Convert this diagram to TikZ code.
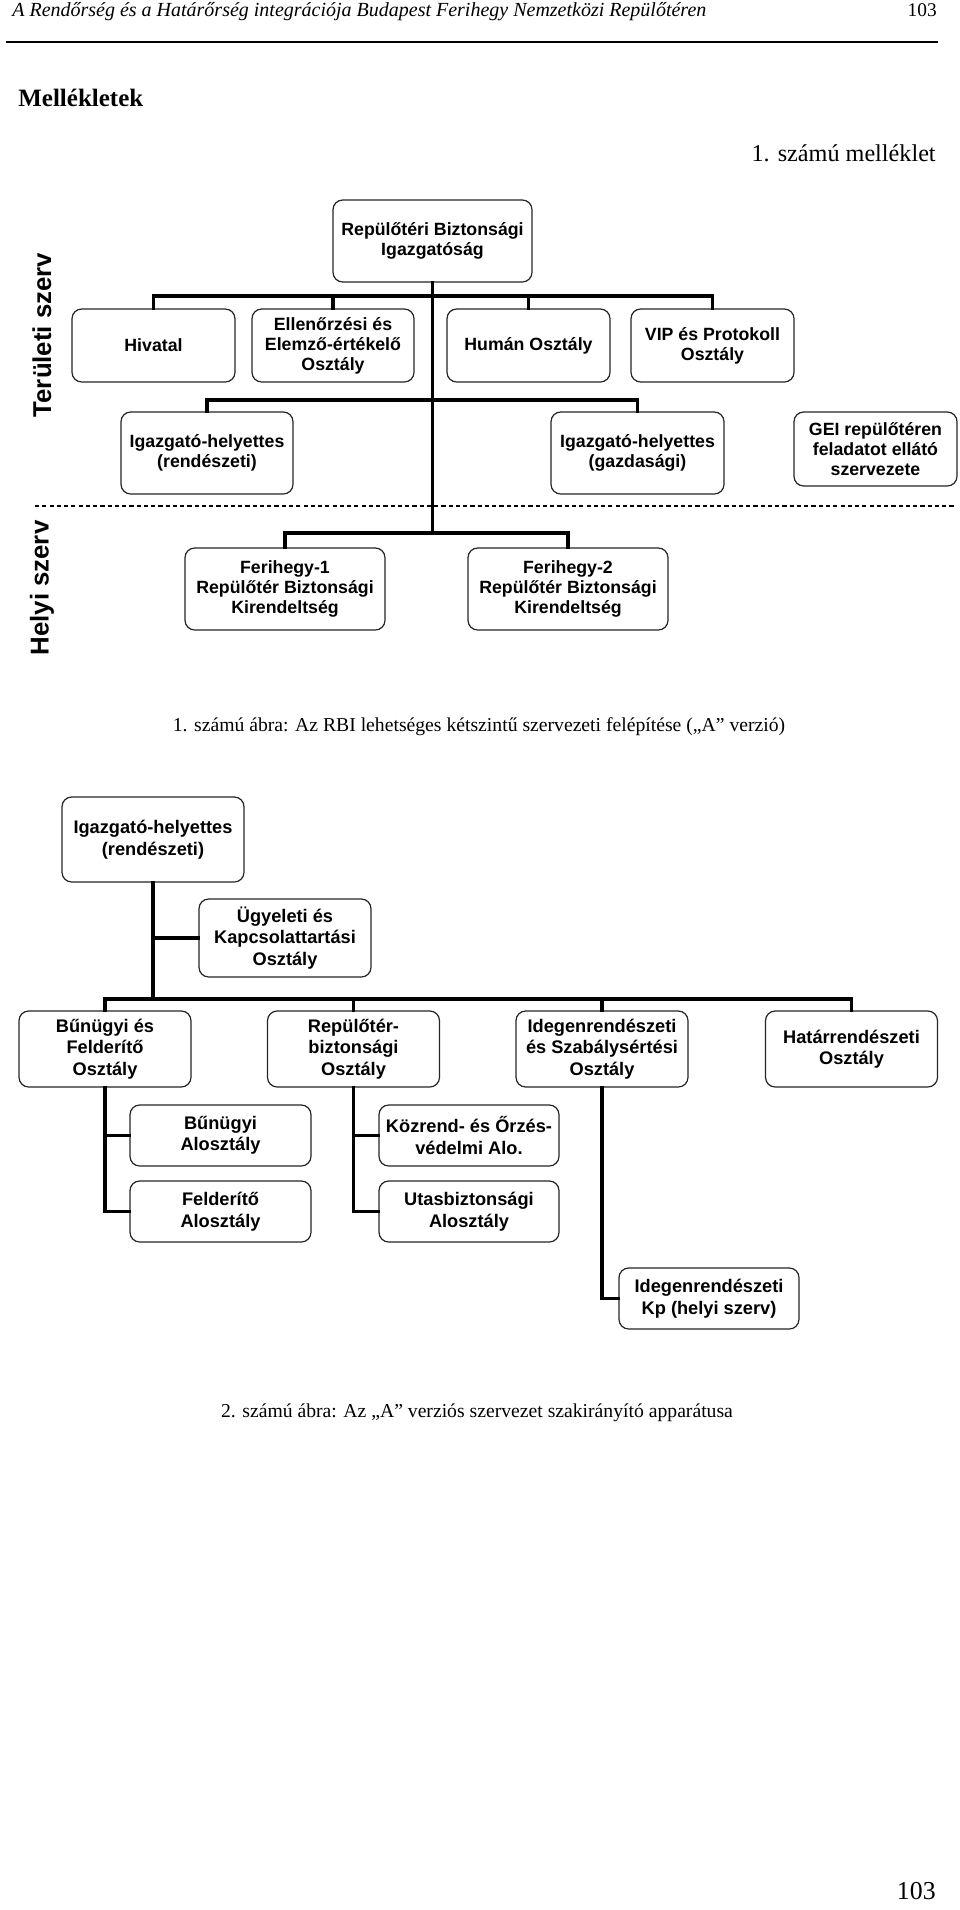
\documentclass[tikz,border=0pt]{standalone}
\usepackage{fontspec}
\setmainfont{Liberation Serif}
\newfontfamily\boxfont{Liberation Sans}
\begin{document}
\begin{tikzpicture}[x=0.6201pt,y=-0.6201pt,
  bx/.style 2 args={minimum width=#1*0.6201pt, minimum height=#2*0.6201pt},
  box/.style={draw=black!85, line width=0.75pt, rounded corners=6pt, align=center, inner sep=0pt,
    font=\boxfont\bfseries\fontsize{11}{12.4}\selectfont},
  boxb/.style={box, font=\boxfont\bfseries\fontsize{11.3}{13.3}\selectfont},
  conn/.style={line width=2.3pt, line cap=rect, line join=miter},
  connthin/.style={line width=2pt, line cap=rect, line join=miter},
  side/.style={rotate=90, font=\boxfont\bfseries\fontsize{16}{18}\selectfont},
]
\useasboundingbox[fill=white] (0,0) rectangle (960,1910);

% header
\node[anchor=base west, inner sep=0pt, font=\itshape\fontsize{12.4}{14}\selectfont] (hdr) at (12,17)
  {A Rendőrség és a Határőrség integrációja Budapest Ferihegy Nemzetközi Repülőtéren};
\node[anchor=base east, inner sep=0pt, font=\fontsize{12}{14}\selectfont] (hdrnum) at (937,17) {103};
\coordinate (rulel) at (6,42);
\coordinate (ruler) at (938,42);
\draw[line width=0.9pt] (rulel) -- (ruler);

\node[anchor=base west, inner sep=0pt, font=\bfseries\fontsize{15.5}{17}\selectfont] (mell) at (18,106) {Mellékletek};
\node[anchor=base east, inner sep=0pt, font=\fontsize{15}{17}\selectfont] (mell1) at (936,161) {1. számú melléklet};

% ---------- diagram 1 ----------
\node[side] (terul) at (42,335) {Területi szerv};
\node[side] (helyi) at (42,588) {Helyi szerv};

\node[box, bx={199}{82}] (rbi) at (432.5,241) {Repülőtéri Biztonsági\\Igazgatóság};
\node[box, bx={163}{73}] (hiv) at (153.5,345.5) {Hivatal};
\node[box, bx={162}{73}] (ell) at (333,345.5) {Ellenőrzési és\\Elemző-értékelő\\Osztály};
\node[box, bx={163}{73}] (hum) at (528.5,345.5) {Humán Osztály};
\node[box, bx={163}{73}] (vip) at (712.5,345.5) {VIP és Protokoll\\Osztály};
\node[box, bx={172}{82}] (igr) at (207,453) {Igazgató-helyettes\\(rendészeti)};
\node[box, bx={173}{82}] (igg) at (637.5,453) {Igazgató-helyettes\\(gazdasági)};
\node[box, bx={163}{74}] (gei) at (875.5,449) {GEI repülőtéren\\feladatot ellátó\\szervezete};
\node[box, bx={200}{82}] (f1) at (285,589) {Ferihegy-1\\Repülőtér Biztonsági\\Kirendeltség};
\node[box, bx={200}{82}] (f2) at (568,589) {Ferihegy-2\\Repülőtér Biztonsági\\Kirendeltség};

\coordinate (bus1) at (432.5,296);
\coordinate (bus2) at (432.5,400);
\coordinate (bus3) at (432.5,533);
\coordinate (dashl) at (35,506);
\coordinate (dashr) at (955,506);

\draw[line width=0.7pt, dash pattern=on 2.6pt off 1.9pt] (dashl) -- (dashr);
\draw[conn] (rbi.south) -- (bus3);
\draw[connthin] (hiv.north) -- (hiv.north |- bus1) -- (vip.north |- bus1) -- (vip.north);
\draw[connthin] (ell.north) -- (ell.north |- bus1);
\draw[connthin] (hum.north) -- (hum.north |- bus1);
\draw[conn] (igr.north) -- (igr.north |- bus2) -- (igg.north |- bus2) -- (igg.north);
\draw[conn] (f1.north) -- (f1.north |- bus3) -- (f2.north |- bus3) -- (f2.north);

\node[anchor=base, inner sep=0pt, font=\fontsize{12.2}{14}\selectfont] (cap1) at (479,731)
  {1. számú ábra: Az RBI lehetséges kétszintű szervezeti felépítése („A” verzió)};

% ---------- diagram 2 ----------
\node[boxb, bx={182}{85}] (igr2) at (153,839.5) {Igazgató-helyettes\\(rendészeti)};
\node[boxb, bx={172}{78}] (ugy) at (285,938) {Ügyeleti és\\Kapcsolattartási\\Osztály};
\node[boxb, bx={172}{76}] (bun) at (105,1049) {Bűnügyi és\\Felderítő\\Osztály};
\node[boxb, bx={172}{76}] (rep) at (353.5,1049) {Repülőtér-\\biztonsági\\Osztály};
\node[boxb, bx={172}{76}] (ide) at (602,1049) {Idegenrendészeti\\és Szabálysértési\\Osztály};
\node[boxb, bx={172}{76}] (hat) at (851.5,1049) {Határrendészeti\\Osztály};
\node[boxb, bx={181}{61}] (bal) at (220.5,1135.5) {Bűnügyi\\Alosztály};
\node[boxb, bx={181}{61}] (fel) at (220.5,1211.5) {Felderítő\\Alosztály};
\node[boxb, bx={180}{61}] (koz) at (469,1135.5) {Közrend- és Őrzés-\\védelmi Alo.};
\node[boxb, bx={180}{61}] (uta) at (469,1211.5) {Utasbiztonsági\\Alosztály};
\node[boxb, bx={180}{61}] (kp) at (709,1298.5) {Idegenrendészeti\\Kp (helyi szerv)};

\coordinate (bus4) at (153,999);
\draw[conn] (igr2.south) -- (bus4);
\draw[conn] (ugy.west) -- (ugy.west -| igr2.south);
\draw[conn] (bun.north) -- (bun.north |- bus4) -- (hat.north |- bus4) -- (hat.north);
\draw[conn] (rep.north) -- (rep.north |- bus4);
\draw[conn] (ide.north) -- (ide.north |- bus4);
\draw[conn] (bun.south) |- (fel.west);
\draw[conn] (bun.south |- bal.west) -- (bal.west);
\draw[conn] (rep.south) |- (uta.west);
\draw[conn] (rep.south |- koz.west) -- (koz.west);
\draw[conn] (ide.south) |- (kp.west);

\node[anchor=base, inner sep=0pt, font=\fontsize{12.2}{14}\selectfont] (cap2) at (477,1417)
  {2. számú ábra: Az „A” verziós szervezet szakirányító apparátusa};

\node[anchor=base east, inner sep=0pt, font=\fontsize{16}{18}\selectfont] (ftr) at (936,1899) {103};
\end{tikzpicture}
\end{document}
